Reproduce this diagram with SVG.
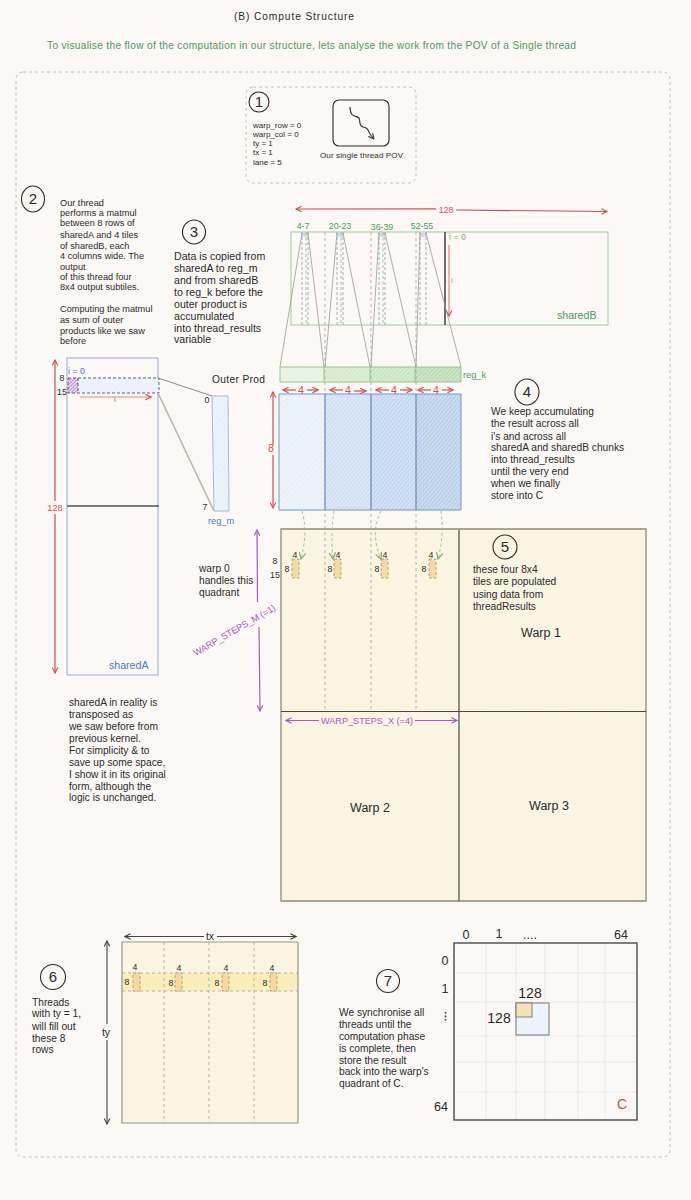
<svg xmlns="http://www.w3.org/2000/svg" width="691" height="1200" viewBox="0 0 691 1200">
<style>
text{font-family:"Liberation Sans",Arial,sans-serif;fill:#2b2b2b}
.t7{font-size:8px}.t8{font-size:8.8px}.t9{font-size:9.2px}.t10{font-size:10.2px}.t105{font-size:10.6px}.t12{font-size:12.5px}.t13{font-size:14px}
.m{text-anchor:middle}
.num{font-size:15px;text-anchor:middle}
.g{fill:#4f9a55}.b{fill:#4a78bd}.r{fill:#d0504c}.p{fill:#a45ec5}
.c{fill:none;stroke:#2b2b2b;stroke-width:1.1}
.frame{fill:none;stroke:#bdbab6;stroke-width:.9;stroke-dasharray:3 3}
.red{fill:none;stroke:#d0504c;stroke-width:1.2}
.pur{fill:none;stroke:#a45ec5;stroke-width:1.2}
.drk{fill:none;stroke:#444;stroke-width:1.1}
.gl{fill:none;stroke:#9a9a94;stroke-width:.8}
.dl{fill:none;stroke:#a3a39d;stroke-width:.8;stroke-dasharray:3 3}
.gd{fill:none;stroke:#7fb884;stroke-width:.8;stroke-dasharray:3 2.5}
.kd{fill:none;stroke:#3b3b55;stroke-width:.8;stroke-dasharray:3 2}
.kl{fill:none;stroke:#8a8a98;stroke-width:.7;stroke-dasharray:3 2}
.tile{fill:#f5d9a3;stroke:#a89468;stroke-width:.8;stroke-dasharray:3 2}
.q{stroke:#8e8a78;stroke-width:1.3;fill:none}
.grid{stroke:#e6e3df;stroke-width:.8;fill:none}
</style>
<defs>
<pattern id="hb1" width="4" height="4" patternUnits="userSpaceOnUse" patternTransform="rotate(-45)"><rect width="4" height="4" fill="#edf3fb"/><rect width="4" height=".7" fill="#e3ecf8"/></pattern>
<pattern id="hb2" width="3" height="3" patternUnits="userSpaceOnUse" patternTransform="rotate(-50)"><rect width="3" height="3" fill="#dce8f8"/><rect width="3" height=".8" fill="#c8daf1"/></pattern>
<pattern id="hb3" width="3" height="3" patternUnits="userSpaceOnUse" patternTransform="rotate(-50)"><rect width="3" height="3" fill="#d3e2f6"/><rect width="3" height="1" fill="#bdd2ec"/></pattern>
<pattern id="hb4" width="3" height="3" patternUnits="userSpaceOnUse" patternTransform="rotate(-50)"><rect width="3" height="3" fill="#cfdff2"/><rect width="3" height="1.2" fill="#b4cae3"/></pattern>
<pattern id="hg1" width="4" height="4" patternUnits="userSpaceOnUse" patternTransform="rotate(-45)"><rect width="4" height="4" fill="#eaf5e6"/><rect width="4" height=".6" fill="#e2f0dd"/></pattern>
<pattern id="hg2" width="3" height="3" patternUnits="userSpaceOnUse" patternTransform="rotate(-45)"><rect width="3" height="3" fill="#dcf0d6"/><rect width="3" height=".8" fill="#cde7c5"/></pattern>
<pattern id="hg3" width="3" height="3" patternUnits="userSpaceOnUse" patternTransform="rotate(-45)"><rect width="3" height="3" fill="#d6ecd0"/><rect width="3" height="1" fill="#c3e0ba"/></pattern>
<pattern id="hg4" width="3" height="3" patternUnits="userSpaceOnUse" patternTransform="rotate(-45)"><rect width="3" height="3" fill="#cfe6c9"/><rect width="3" height="1.2" fill="#b8d8ae"/></pattern>
<pattern id="hy" width="6" height="6" patternUnits="userSpaceOnUse" patternTransform="rotate(45)"><rect width="6" height="6" fill="#fbf5e3"/><rect width="6" height="1" fill="#faf2dd"/></pattern>
<pattern id="hp" width="2.5" height="2.5" patternUnits="userSpaceOnUse" patternTransform="rotate(-45)"><rect width="3" height="3" fill="#ecdcf2"/><rect width="3" height=".9" fill="#b98ad0"/></pattern>
<marker id="ar" viewBox="0 0 10 10" refX="9" refY="5" markerWidth="7" markerHeight="7" markerUnits="userSpaceOnUse" orient="auto"><path d="M1 1L9 5L1 9" fill="none" stroke="#d0504c" stroke-width="1.6"/></marker>
<marker id="ap" viewBox="0 0 10 10" refX="9" refY="5" markerWidth="7" markerHeight="7" markerUnits="userSpaceOnUse" orient="auto"><path d="M1 1L9 5L1 9" fill="none" stroke="#a45ec5" stroke-width="1.6"/></marker>
<marker id="ad" viewBox="0 0 10 10" refX="9" refY="5" markerWidth="7" markerHeight="7" markerUnits="userSpaceOnUse" orient="auto"><path d="M1 1L9 5L1 9" fill="none" stroke="#444" stroke-width="1.6"/></marker>
<marker id="ag" viewBox="0 0 10 10" refX="9" refY="5" markerWidth="8" markerHeight="8" markerUnits="userSpaceOnUse" orient="auto"><path d="M1 1L9 5L1 9" fill="none" stroke="#6fb077" stroke-width="1.4"/></marker>
</defs>
<rect width="691" height="1200" fill="#fbf8f5"/>
<g id="header">
<text x="234" y="20" class="t10" textLength="120">(B) Compute Structure</text>
<text x="47" y="49" class="t10 g" textLength="529">To visualise the flow of the computation in our structure, lets analyse the work from the POV of a Single thread</text>
</g>
<rect id="outer-frame" x="16" y="72" width="654" height="1085" rx="7" class="frame"/>

<g id="step1">
<rect x="246" y="87" width="170" height="96" rx="7" class="frame"/>
<circle cx="259" cy="102" r="10" class="c"/><text x="259" y="107" class="num">1</text>
<text class="t7"><tspan x="253" y="128">warp_row = 0</tspan><tspan x="253" y="137">warp_col = 0</tspan><tspan x="253" y="146">ty = 1</tspan><tspan x="253" y="155">tx = 1</tspan><tspan x="253" y="165">lane = 5</tspan></text>
<rect x="333" y="100" width="56" height="46" rx="6" class="c" stroke-width="1.2"/>
<path d="M350 107C350 118 356 115 359 118C361 122 358 125 363 127C368 128 368 130 370 134L374 139" class="c" marker-end="url(#ad)"/>
<text x="320" y="158" class="t7" textLength="83">Our single thread POV</text>
</g>

<g id="step2">
<ellipse cx="33" cy="199" rx="11.5" ry="13" class="c"/><text x="33" y="204" class="num">2</text>
<text class="t9"><tspan x="60" y="206">Our thread</tspan><tspan x="60" y="216">performs a matmul</tspan><tspan x="60" y="226">between 8 rows of</tspan><tspan x="60" y="238">sharedA and 4 tiles</tspan><tspan x="60" y="249">of sharedB, each</tspan><tspan x="60" y="259">4 columns wide. The</tspan><tspan x="60" y="270">output</tspan><tspan x="60" y="280">of this thread four</tspan><tspan x="60" y="290">8x4 output subtiles.</tspan><tspan x="60" y="312">Computing the matmul</tspan><tspan x="60" y="323">as sum of outer</tspan><tspan x="60" y="334">products like we saw</tspan><tspan x="60" y="344">before</tspan></text>
</g>

<g id="step3">
<ellipse cx="194" cy="232" rx="11.5" ry="12" class="c"/><text x="194" y="237" class="num">3</text>
<text class="t105"><tspan x="174" y="260">Data is copied from</tspan><tspan x="174" y="272">sharedA to reg_m</tspan><tspan x="174" y="284">and from sharedB</tspan><tspan x="174" y="296">to reg_k before the</tspan><tspan x="174" y="308">outer product is</tspan><tspan x="174" y="320">accumulated</tspan><tspan x="174" y="332">into thread_results</tspan><tspan x="174" y="343">variable</tspan></text>
</g>

<g id="sharedB">
<rect x="291" y="232" width="317" height="93" fill="none" stroke="#a9cfa0" stroke-width="1.1"/>
<rect x="302" y="232" width="6" height="5" fill="#dcd8ec"/><rect x="337" y="232" width="6" height="5" fill="#dcd8ec"/><rect x="379" y="232" width="6" height="5" fill="#dcd8ec"/><rect x="420" y="232" width="6" height="5" fill="#dcd8ec"/>
<path d="M302 232V325M337 232V325M379 232V325M420 232V325" class="kl"/>
<path d="M308 232V325M343 232V325M385 232V325M426 232V325" class="kl"/>
<path d="M306 232V325M341 232V325M383 232V325" class="gd"/>
<text class="t8 g m"><tspan x="303" y="229">4-7</tspan><tspan x="340" y="229">20-23</tspan><tspan x="382" y="230">36-39</tspan><tspan x="422" y="229">52-55</tspan></text>
<path d="M445 232V325" stroke="#222" stroke-width="1.3" fill="none"/>
<text x="449" y="240" class="t8" style="fill:#7fa884">i = 0</text>
<text x="451" y="283" class="t7" style="fill:#999">i</text>
<text x="557" y="319" class="t105 g">sharedB</text>
</g>

<g id="reg_k">
<rect x="280" y="367" width="44" height="15" fill="url(#hg1)"/><rect x="324" y="367" width="46" height="15" fill="url(#hg2)"/><rect x="370" y="367" width="45" height="15" fill="url(#hg3)"/><rect x="415" y="367" width="46" height="15" fill="url(#hg4)"/>
<path d="M280 367H461V382H280ZM324 367V382M370 367V382M415 367V382" fill="none" stroke="#8fbf87" stroke-width=".9"/>
<text x="463" y="378" class="t9 g">reg_k</text>
</g>

<g id="matrix">
<rect x="279" y="394" width="46" height="116" fill="url(#hb1)"/><rect x="325" y="394" width="46" height="116" fill="url(#hb2)"/><rect x="371" y="394" width="45" height="116" fill="url(#hb3)"/><rect x="416" y="394" width="45" height="116" fill="url(#hb4)"/>
<path d="M279 394H461V510H279Z" fill="none" stroke="#6a97d0" stroke-width="1"/>
<path d="M325 394V510M371 394V510M416 394V510" fill="none" stroke="#5b8bc9" stroke-width="1.2"/>
</g>

<g id="quadrants">
<rect x="281" y="529" width="365" height="372" fill="url(#hy)"/>
<path d="M281 529H646V901H281Z" class="q"/>
<path d="M459 530V901M281 711.5H646" fill="none" stroke="#4a4a44" stroke-width="1.2"/>
<text class="t12 m"><tspan x="541" y="637">Warp 1</tspan><tspan x="370" y="812">Warp 2</tspan><tspan x="549" y="810">Warp 3</tspan></text>
</g>

<g id="subtiles">
<rect x="292" y="559" width="7" height="19" class="tile"/><rect x="334" y="559" width="7" height="19" class="tile"/><rect x="381" y="559" width="7" height="19" class="tile"/><rect x="429" y="559" width="7" height="19" class="tile"/>
<text class="t8 m"><tspan x="295" y="558">4</tspan><tspan x="338" y="558">4</tspan><tspan x="385" y="558">4</tspan><tspan x="431" y="558">4</tspan><tspan x="287" y="572">8</tspan><tspan x="330" y="572">8</tspan><tspan x="377" y="572">8</tspan><tspan x="424" y="572">8</tspan><tspan x="275" y="564">8</tspan><tspan x="275" y="578">15</tspan></text>
</g>

<g id="step4">
<ellipse cx="527" cy="392" rx="12" ry="13" class="c"/><text x="527" y="397" class="num">4</text>
<text class="t10"><tspan x="491" y="415">We keep accumulating</tspan><tspan x="491" y="427">the result across all</tspan><tspan x="491" y="440">i's and across all</tspan><tspan x="491" y="451">sharedA and sharedB chunks</tspan><tspan x="491" y="463">into thread_results</tspan><tspan x="491" y="475">until the very end</tspan><tspan x="491" y="487">when we finally</tspan><tspan x="491" y="499">store into C</tspan></text>
</g>

<g id="step5">
<circle cx="505" cy="547" r="12" class="c"/><text x="505" y="552" class="num">5</text>
<text class="t10"><tspan x="473" y="573">these four 8x4</tspan><tspan x="473" y="585">tiles are populated</tspan><tspan x="473" y="598">using data from</tspan><tspan x="473" y="610">threadResults</tspan></text>
</g>

<g id="warp0-label"><text class="t10"><tspan x="199" y="572">warp 0</tspan><tspan x="199" y="584">handles this</tspan><tspan x="199" y="596">quadrant</tspan></text></g>

<g id="sharedA">
<rect x="67" y="358" width="91" height="317" fill="none" stroke="#9db5d8" stroke-width="1.1"/>
<rect x="68" y="378" width="91" height="15" fill="url(#hb1)"/>
<rect x="68" y="378" width="10" height="15" fill="url(#hp)"/>
<path d="M68 378H159V393H68ZM78 378V393" class="kd"/>
<path d="M67 506H159" stroke="#555" stroke-width="1.4" fill="none"/>
<text x="68" y="374" class="t8 b">i = 0</text>
<text class="t8 m"><tspan x="62" y="381">8</tspan><tspan x="62" y="395">15</tspan></text>
<text x="114" y="402" class="t7" style="fill:#d0504c">i</text>
<text x="109" y="669" class="t105 b">sharedA</text>
</g>

<g id="reg_m">
<path d="M212 396H228L229 511H214Z" fill="url(#hb1)" stroke="#a0bcdc" stroke-width="1"/>
<text x="212" y="383" class="t10" textLength="53">Outer Prod</text>
<text class="t8 m"><tspan x="207" y="403">0</tspan><tspan x="205" y="510">7</tspan></text>
<text x="208" y="524" class="t9 b">reg_m</text>
</g>

<g id="note-sharedA">
<text class="t10"><tspan x="69" y="706">sharedA in reality is</tspan><tspan x="69" y="718">transposed as</tspan><tspan x="69" y="730">we saw before from</tspan><tspan x="69" y="742">previous kernel.</tspan><tspan x="69" y="754">For simplicity &amp; to</tspan><tspan x="69" y="766">save up some space,</tspan><tspan x="69" y="778">I show it in its original</tspan><tspan x="69" y="790">form, although the</tspan><tspan x="69" y="801">logic is unchanged.</tspan></text>
</g>

<g id="step6">
<circle cx="53" cy="977" r="12.5" class="c"/><text x="53" y="982" class="num">6</text>
<text class="t10"><tspan x="32" y="1006">Threads</tspan><tspan x="32" y="1017">with ty = 1,</tspan><tspan x="32" y="1030">will fill out</tspan><tspan x="32" y="1042">these 8</tspan><tspan x="32" y="1053">rows</tspan></text>
</g>

<g id="threads-grid">
<rect x="122" y="942" width="176" height="181" fill="url(#hy)"/>
<rect x="122" y="973" width="176" height="18" fill="#fbeebb"/>
<path d="M122 973H298M122 991H298" class="dl"/>
<path d="M122 942H298V1123H122Z" fill="none" stroke="#9a9688" stroke-width="1.2"/>
<path d="M164 942V1123M209 942V1123M254 942V1123" class="dl"/>
<rect x="133" y="973" width="7" height="18" class="tile"/><rect x="175" y="973" width="7" height="18" class="tile"/><rect x="222" y="973" width="7" height="18" class="tile"/><rect x="270" y="973" width="7" height="18" class="tile"/>
<text class="t8 m"><tspan x="135" y="970">4</tspan><tspan x="179" y="971">4</tspan><tspan x="226" y="971">4</tspan><tspan x="272" y="971">4</tspan><tspan x="127" y="985">8</tspan><tspan x="171" y="986">8</tspan><tspan x="217" y="986">8</tspan><tspan x="265" y="986">8</tspan></text>
<text class="t105 m"><tspan x="210" y="940">tx</tspan><tspan x="106" y="1036">ty</tspan></text>
</g>

<g id="step7">
<circle cx="388" cy="981" r="11.5" class="c"/><text x="388" y="986" class="num">7</text>
<text class="t10"><tspan x="339" y="1016">We synchronise all</tspan><tspan x="339" y="1028">threads until the</tspan><tspan x="339" y="1040">computation phase</tspan><tspan x="339" y="1052">is complete, then</tspan><tspan x="339" y="1064">store the result</tspan><tspan x="339" y="1075">back into the warp's</tspan><tspan x="339" y="1087">quadrant of C.</tspan></text>
</g>

<g id="matrix-C">
<path d="M486 943V1120M516 943V1120M545 943V1120M578 943V1120M605 943V1120M454 973H637M454 1002H637M454 1036H637M454 1062H637M454 1092H637" class="grid"/>
<rect x="516" y="1003" width="33" height="32" fill="#edf3fa" stroke="#666" stroke-width=".9"/>
<rect x="516" y="1003" width="16" height="14" fill="#f3e2b5" stroke="#777" stroke-width=".9"/>
<rect x="454" y="943" width="183" height="177" fill="none" stroke="#4a4a4a" stroke-width="1.4"/>
<text class="t12 m"><tspan x="466" y="939">0</tspan><tspan x="499" y="938">1</tspan><tspan x="530" y="939">....</tspan><tspan x="621" y="939">64</tspan><tspan x="445" y="965">0</tspan><tspan x="445" y="993">1</tspan><tspan x="441" y="1111">64</tspan></text>
<text class="t13 m"><tspan x="530" y="998">128</tspan><tspan x="499" y="1023">128</tspan></text>
<path d="M445.500 1012V1023" stroke="#333" stroke-width="1.6" stroke-dasharray="1.600 2" fill="none"/>
<text x="622" y="1109" class="t13 m r">C</text>
</g>

<g id="connectors">
<path d="M436 208.800L296 209" class="red" marker-end="url(#ar)"/>
<path d="M456 210L607 211.500" class="red" marker-end="url(#ar)"/>
<text x="446" y="213" class="t8 m r">128</text>
<path d="M449 245V316" class="red" style="stroke:#e08a86" marker-end="url(#ar)"/>
<path d="M302 233L280 367M308 233L324 367M337 233L325 367M343 233L370 367M379 233L371 367M385 233L416 367M420 233L416 367M426 233L461 367" class="gl"/>
<path d="M325 232V711M371 232V711M416 232V711" class="dl"/>
<path d="M296 390H283" class="red" marker-end="url(#ar)"/><path d="M307 390H318" class="red" marker-end="url(#ar)"/>
<path d="M343 390H330" class="red" marker-end="url(#ar)"/><path d="M354 391H366" class="red" marker-end="url(#ar)"/>
<path d="M389 390H376" class="red" marker-end="url(#ar)"/><path d="M400 390H412" class="red" marker-end="url(#ar)"/>
<path d="M431 390H418" class="red" marker-end="url(#ar)"/><path d="M442 390H453" class="red" marker-end="url(#ar)"/>
<text class="t105 m r"><tspan x="301" y="394">4</tspan><tspan x="348" y="394">4</tspan><tspan x="394" y="394">4</tspan><tspan x="436" y="394">4</tspan></text>
<path d="M273 445V392" class="red" marker-end="url(#ar)"/><path d="M273 455V508" class="red" marker-end="url(#ar)"/>
<text x="271" y="452" class="t105 m r">8</text>
<path d="M302 511C305 522 307 535 301 559" class="gd" style="stroke:#8ab58c" marker-end="url(#ag)"/>
<path d="M334 511C332 525 331 540 333 559" class="gd" style="stroke:#8ab58c" marker-end="url(#ag)"/>
<path d="M381 511C374 525 373 540 381 559" class="gd" style="stroke:#8ab58c" marker-end="url(#ag)"/>
<path d="M441 511C443 525 443 540 438 559" class="gd" style="stroke:#8ab58c" marker-end="url(#ag)"/>
<path d="M257.500 602L257 530" class="pur" marker-end="url(#ap)"/>
<path d="M259 627L260 711" class="pur" marker-end="url(#ap)"/>
<text transform="translate(236 633) rotate(-30)" class="t9 m p" textLength="93">WARP_STEPS_M (=1)</text>
<path d="M319 720.500H286" class="pur" marker-end="url(#ap)"/>
<path d="M415 720.500H457" class="pur" marker-end="url(#ap)"/>
<text x="321" y="723.500" class="t9 p" textLength="92">WARP_STEPS_X (=4)</text>
<path d="M158 378L212 396" stroke="#8a8a84" stroke-width="1" fill="none"/>
<path d="M158 393L214 511" stroke="#bdb8ae" stroke-width="1.6" fill="none"/>
<path d="M80 397H151" class="red" style="stroke:#e08a86" marker-end="url(#ar)"/>
<path d="M55 501V360" class="red" marker-end="url(#ar)"/><path d="M55 514V673" class="red" marker-end="url(#ar)"/>
<text x="55" y="510.500" class="t9 m r">128</text>
<path d="M204 936.500H125" class="drk" marker-end="url(#ad)"/><path d="M217 936.500H296" class="drk" marker-end="url(#ad)"/>
<path d="M107 1024V941" class="drk" marker-end="url(#ad)"/><path d="M107 1040V1124" class="drk" marker-end="url(#ad)"/>
</g>
</svg>
